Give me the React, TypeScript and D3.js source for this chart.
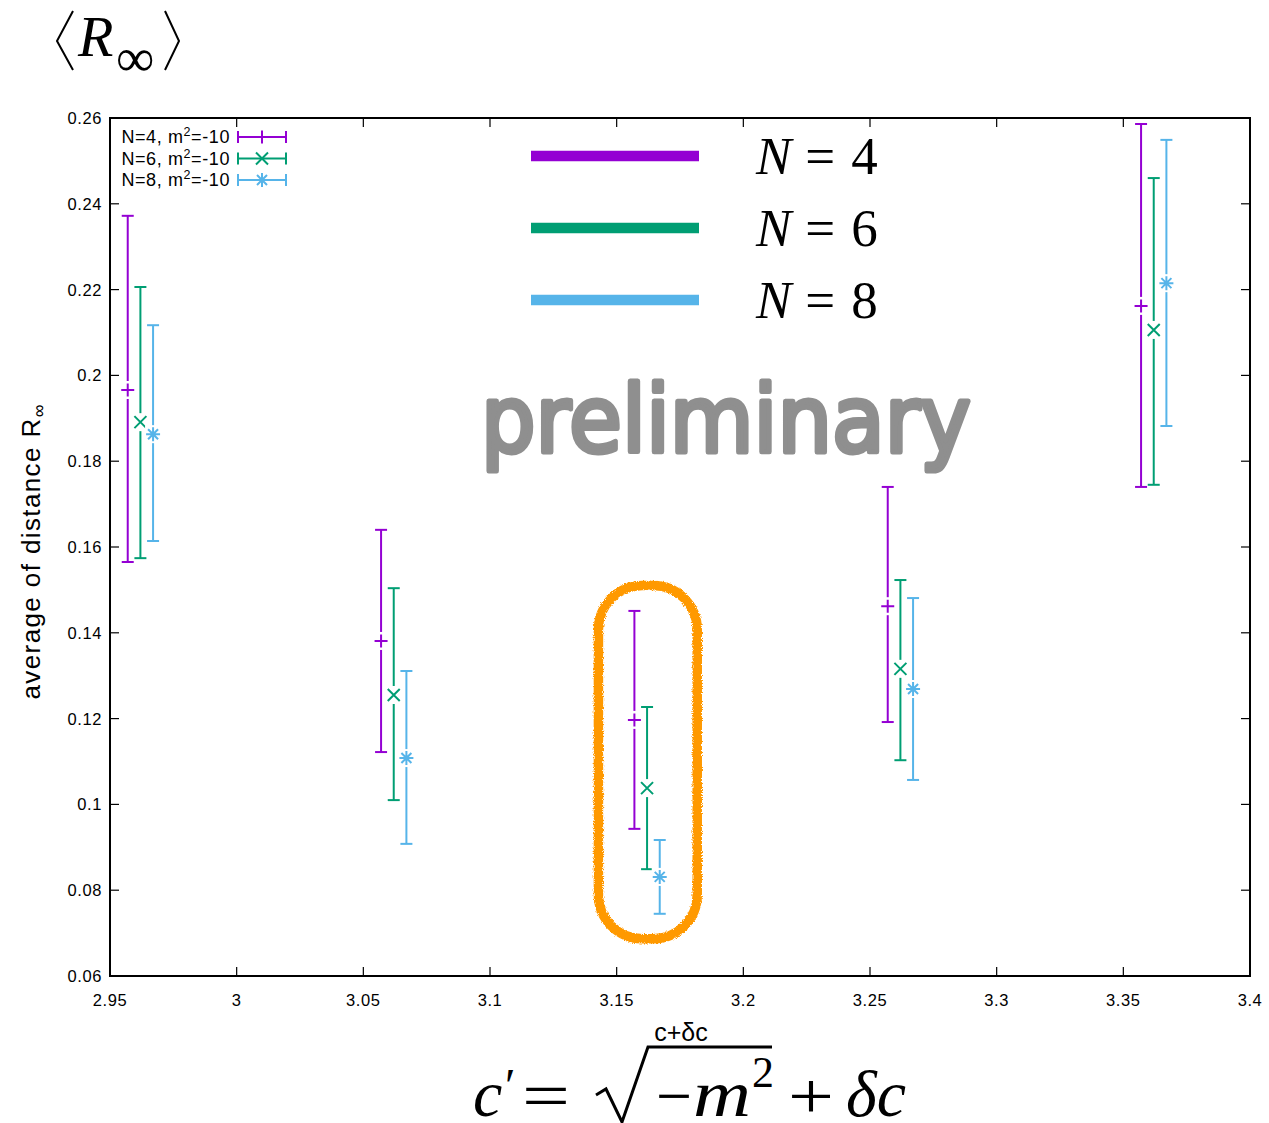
import React from "react";
import * as d3 from "d3";

// ---- data ----
const xTicks = [2.95, 3.0, 3.05, 3.1, 3.15, 3.2, 3.25, 3.3, 3.35, 3.4];
const yTicks = [0.06, 0.08, 0.1, 0.12, 0.14, 0.16, 0.18, 0.2, 0.22, 0.24, 0.26];

const n4X = [2.957, 3.057, 3.157, 3.257, 3.357];
const n4Mean = [0.1966, 0.1381, 0.1197, 0.1462, 0.2162];
const n4Lo = [0.1565, 0.1122, 0.0943, 0.1192, 0.174];
const n4Hi = [0.2372, 0.164, 0.1451, 0.174, 0.2586];

const n6X = [2.962, 3.062, 3.162, 3.262, 3.362];
const n6Mean = [0.1891, 0.1255, 0.1038, 0.1316, 0.2106];
const n6Lo = [0.1574, 0.101, 0.0849, 0.1103, 0.1745];
const n6Hi = [0.2206, 0.1504, 0.1227, 0.1523, 0.246];

const n8X = [2.967, 3.067, 3.167, 3.267, 3.367];
const n8Mean = [0.1863, 0.1108, 0.0831, 0.1269, 0.2215];
const n8Lo = [0.1614, 0.0908, 0.0745, 0.1057, 0.1882];
const n8Hi = [0.2117, 0.1311, 0.0917, 0.1481, 0.2549];

const seriesNames = ["N=4", "N=6", "N=8"];
const seriesColors = ["#9400D3", "#009E73", "#56B4E9"];
const bigLegendLabels = ["4", "6", "8"];
// highlighted region (x range, y range) around c' = sqrt(10)
const highlightX = [3.1428, 3.1818];
const highlightY = [0.0687, 0.151];

const M = { left: 110, right: 1250, top: 118, bottom: 976 };

export default function App() {
  const x = d3.scaleLinear().domain([2.95, 3.4]).range([M.left, M.right]);
  const y = d3.scaleLinear().domain([0.06, 0.26]).range([M.bottom, M.top]);

  const series = [
    { xs: n4X, mean: n4Mean, lo: n4Lo, hi: n4Hi, marker: "plus" },
    { xs: n6X, mean: n6Mean, lo: n6Lo, hi: n6Hi, marker: "cross" },
    { xs: n8X, mean: n8Mean, lo: n8Lo, hi: n8Hi, marker: "star" },
  ];

  const markerPath = (m: string) => {
    if (m === "plus") return "M-6.5,0H6.5M0,-6.5V6.5";
    if (m === "cross") return "M-6,-6L6,6M-6,6L6,-6";
    return "M-7,0H7M0,-7V7M-5,-5L5,5M-5,5L5,-5";
  };

  const sans = "'Liberation Sans', Arial, sans-serif";
  const serif = "'Liberation Serif', 'Times New Roman', serif";

  // orange highlight path
  const hx0 = x(highlightX[0]);
  const hx1 = x(highlightX[1]);
  const hy0 = y(highlightY[1]);
  const hy1 = y(highlightY[0]);
  const r = 44;
  const gapL = 646;
  const gapR = 652;
  const hp = d3.path();
  hp.moveTo(gapR, hy0);
  hp.lineTo(hx1 - r, hy0);
  hp.arcTo(hx1, hy0, hx1, hy0 + r, r);
  hp.lineTo(hx1, hy1 - r);
  hp.arcTo(hx1, hy1, hx1 - r, hy1, r);
  hp.lineTo(hx0 + r, hy1);
  hp.arcTo(hx0, hy1, hx0, hy1 - r, r);
  hp.lineTo(hx0, hy0 + r);
  hp.arcTo(hx0, hy0, hx0 + r, hy0, r);
  hp.lineTo(gapL, hy0);

  const fmt = (t: number) => String(+t.toFixed(2));

  return (
    <svg
      width={1269}
      height={1123}
      style={{ position: "absolute", left: 0, top: 0, display: "block", background: "#fff" }}
    >
      <defs>
        <filter id="rough" x="-10%" y="-10%" width="120%" height="120%">
          <feTurbulence type="fractalNoise" baseFrequency="0.9" numOctaves="2" seed="3" result="n" />
          <feDisplacementMap in="SourceGraphic" in2="n" scale="4" xChannelSelector="R" yChannelSelector="G" />
        </filter>
      </defs>
      <rect x={0} y={0} width={1269} height={1123} fill="#fff" />

      {/* title <R_inf> */}
      <path d="M73,11 L57,41 L73,70" fill="none" stroke="#000" strokeWidth={2} />
      <text x={78} y={56} fontFamily={serif} fontStyle="italic" fontSize={58}>R</text>
      <text x={116} y={76} fontFamily={serif} fontSize={54}>∞</text>
      <path d="M165,11 L179,41 L165,70" fill="none" stroke="#000" strokeWidth={2} />

      {/* ticks */}
      {xTicks.map((t) => (
        <g key={"xt" + t}>
          <line x1={x(t)} x2={x(t)} y1={M.bottom} y2={M.bottom - 9} stroke="#000" strokeWidth={1.2} />
          <line x1={x(t)} x2={x(t)} y1={M.top} y2={M.top + 9} stroke="#000" strokeWidth={1.2} />
          <text x={x(t)} y={1006} textAnchor="middle" fontFamily={sans} fontSize={16.5} letterSpacing={0.6}>
            {fmt(t)}
          </text>
        </g>
      ))}
      {yTicks.map((t) => (
        <g key={"yt" + t}>
          <line x1={M.left} x2={M.left + 9} y1={y(t)} y2={y(t)} stroke="#000" strokeWidth={1.2} />
          <line x1={M.right} x2={M.right - 9} y1={y(t)} y2={y(t)} stroke="#000" strokeWidth={1.2} />
          <text x={102} y={y(t) + 6} textAnchor="end" fontFamily={sans} fontSize={16.5} letterSpacing={0.6}>
            {fmt(t)}
          </text>
        </g>
      ))}

      {/* y label */}
      <text
        transform="translate(40,552) rotate(-90)"
        textAnchor="middle"
        fontFamily={sans}
        fontSize={26}
        textLength={295}
        lengthAdjust="spacing"
      >
        average of distance R<tspan fontSize={18} dy={5}>∞</tspan>
      </text>

      {/* preliminary watermark */}
      <text
        x={481}
        y={452}
        fontFamily="'DejaVu Sans', 'Noto Sans', sans-serif"
        fontSize={92}
        fill="#8f8f8f"
        stroke="#8f8f8f"
        strokeWidth={5}
        strokeLinejoin="round"
        strokeLinecap="round"
        textLength={490}
        lengthAdjust="spacingAndGlyphs"
      >
        preliminary
      </text>

      {/* big legend */}
      {seriesColors.map((c, i) => (
        <g key={"bl" + i}>
          <line x1={531} x2={699} y1={156 + i * 72} y2={156 + i * 72} stroke={c} strokeWidth={10.5} />
          <text x={756} y={174 + i * 72} fontFamily={serif} fontSize={53}>
            <tspan fontStyle="italic">N</tspan>
            <tspan dx={14}>=</tspan>
            <tspan dx={16}>{bigLegendLabels[i]}</tspan>
          </text>
        </g>
      ))}

      {/* orange highlight */}
      <path
        d={hp.toString()}
        fill="none"
        stroke="#FF9900"
        strokeWidth={9.5}
        strokeLinecap="round"
        filter="url(#rough)"
      />

      {/* error bars */}
      {series.map((s, si) => (
        <g key={"s" + si} stroke={seriesColors[si]} strokeWidth={2} fill="none">
          {s.xs.map((xv, i) => {
            const cx = x(xv);
            return (
              <g key={i}>
                <line x1={cx} x2={cx} y1={y(s.lo[i])} y2={y(s.hi[i])} />
                <line x1={cx - 6} x2={cx + 6} y1={y(s.lo[i])} y2={y(s.lo[i])} />
                <line x1={cx - 6} x2={cx + 6} y1={y(s.hi[i])} y2={y(s.hi[i])} />
                <rect x={cx - 8} y={y(s.mean[i]) - 9} width={16} height={18} fill="#fff" stroke="none" />
                <path d={markerPath(s.marker)} transform={`translate(${cx},${y(s.mean[i])})`} />
              </g>
            );
          })}
        </g>
      ))}

      {/* small legend */}
      {seriesNames.map((n, i) => {
        const ly = 137 + i * 21.5;
        return (
          <g key={"sl" + i}>
            <text x={230} y={ly + 6} textAnchor="end" fontFamily={sans} fontSize={18} letterSpacing={0.6}>
              {n}, m<tspan fontSize={12.5} dy={-7}>2</tspan>
              <tspan dy={7}>=-10</tspan>
            </text>
            <g stroke={seriesColors[i]} strokeWidth={2} fill="none">
              <line x1={238} x2={286} y1={ly} y2={ly} />
              <line x1={238} x2={238} y1={ly - 6} y2={ly + 6} />
              <line x1={286} x2={286} y1={ly - 6} y2={ly + 6} />
              <path d={markerPath(series[i].marker)} transform={`translate(262,${ly})`} />
            </g>
          </g>
        );
      })}

      {/* frame */}
      <rect
        x={M.left}
        y={M.top}
        width={M.right - M.left}
        height={M.bottom - M.top}
        fill="none"
        stroke="#000"
        strokeWidth={2}
      />

      {/* x label formula */}
      <text x={681} y={1041} textAnchor="middle" fontFamily={sans} fontSize={25}>c+δc</text>
      <g fontFamily={serif} fontSize={66}>
        <text x={473} y={1116} fontStyle="italic">c</text>
        <text x={505} y={1102} fontSize={48}>′</text>
        <text x={522} y={1118} textLength={48} lengthAdjust="spacingAndGlyphs">=</text>
        <path d="M596,1095 L606,1089 L622,1122 L648,1047 L772,1047" fill="none" stroke="#000" strokeWidth={3} />
        <text x={656} y={1118} textLength={36} lengthAdjust="spacingAndGlyphs">−</text>
        <text x={693} y={1116} fontStyle="italic" textLength={58} lengthAdjust="spacingAndGlyphs">m</text>
        <text x={752} y={1087} fontSize={44}>2</text>
        <text x={788} y={1118} textLength={46} lengthAdjust="spacingAndGlyphs">+</text>
        <text x={846} y={1116} fontStyle="italic">δc</text>
      </g>
    </svg>
  );
}
